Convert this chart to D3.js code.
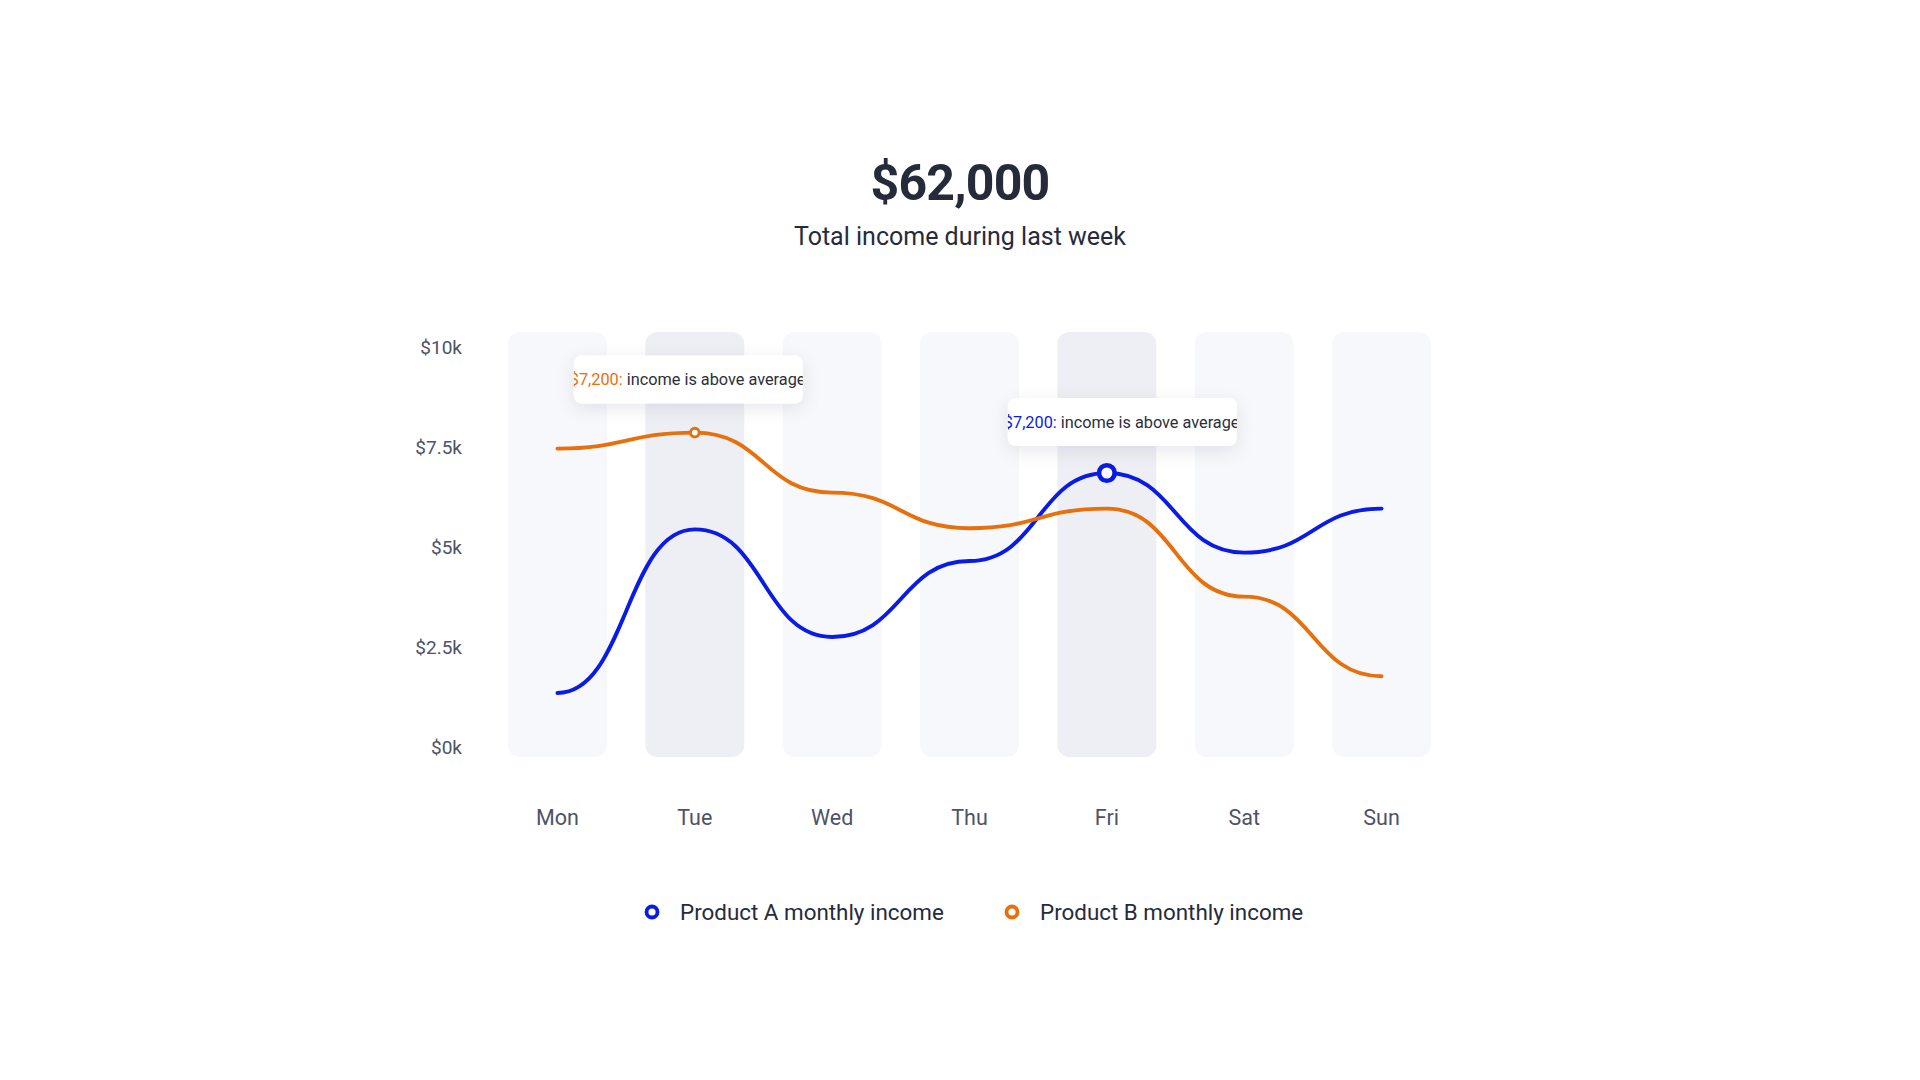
<!DOCTYPE html>
<html>
<head>
<meta charset="utf-8">
<script src="https://cdn.jsdelivr.net/npm/d3@7"></script>
<style>
  html, body { margin: 0; padding: 0; background: #ffffff; }
  svg { display: block; font-family: Roboto, "Noto Sans", sans-serif; }
</style>
</head>
<body>
<svg id="chart" width="1920" height="1080"></svg>
<script>
// ---- data ----
const days = ["Mon", "Tue", "Wed", "Thu", "Fri", "Sat", "Sun"];
const productA = [1350, 5440, 2750, 4650, 6850, 4860, 5960];
const productB = [7460, 7860, 6360, 5470, 5960, 3760, 1770];
const yTicks = [0, 2500, 5000, 7500, 10000];
const yTickLabels = ["$0k", "$2.5k", "$5k", "$7.5k", "$10k"];
const highlightedDays = ["Tue", "Fri"];
const seriesNames = ["Product A monthly income", "Product B monthly income"];
const titleText = "$62,000";
const subtitleText = "Total income during last week";
const tooltipDays = ["Tue", "Fri"];
const tooltipSeries = [1, 0];           // index into series list
const tooltipValues = ["$7,200:", "$7,200:"];
const tooltipMessage = " income is above average";

// ---- styles / layout ----
const colors = ["#0a1be6", "#e8700c"];
const series = [productA, productB];
const textDark = "#262b3c";
const axisColor = "#4d5368";

const svg = d3.select("#chart");
const defs = svg.append("defs");
const shadow = defs.append("filter").attr("id", "shadow")
  .attr("x", "-30%").attr("y", "-60%").attr("width", "160%").attr("height", "240%");
shadow.append("feDropShadow").attr("dx", 0).attr("dy", 5).attr("stdDeviation", 9)
  .attr("flood-color", "#1a2040").attr("flood-opacity", 0.09);

const x = d3.scaleBand().domain(days).range([508, 1431]).paddingInner(0.28).paddingOuter(0);
const y = d3.scaleLinear().domain([0, 10000]).range([747, 347]);
const cx = d => x(d) + x.bandwidth() / 2;

// Title
svg.append("text").attr("x", 960).attr("y", 200).attr("text-anchor", "middle")
  .attr("font-size", 50).attr("font-weight", 700).attr("letter-spacing", -0.8)
  .attr("fill", textDark).text(titleText);
svg.append("text").attr("x", 960).attr("y", 245).attr("text-anchor", "middle")
  .attr("font-size", 25).attr("fill", textDark).text(subtitleText);

// Bars (background columns)
svg.append("g").selectAll("rect").data(days).join("rect")
  .attr("x", d => x(d)).attr("width", x.bandwidth())
  .attr("y", y(10000) - 15).attr("height", y(0) - y(10000) + 25)
  .attr("rx", 12)
  .attr("fill", d => highlightedDays.includes(d) ? "#eeeff4" : "#f7f8fb");

// Y axis labels
const yAxis = d3.axisLeft(y).tickValues(yTicks)
  .tickFormat((d, i) => yTickLabels[i]).tickSize(0).tickPadding(0);
const yg = svg.append("g").attr("transform", "translate(462,0)").call(yAxis);
yg.select(".domain").remove();
yg.selectAll("text").attr("font-size", 19).attr("fill", axisColor)
  .attr("font-family", "Roboto, sans-serif").attr("dy", "0.35em");

// X axis labels
const xAxis = d3.axisBottom(x).tickSize(0).tickPadding(0);
const xg = svg.append("g").attr("transform", "translate(0,817)").call(xAxis);
xg.select(".domain").remove();
xg.selectAll("text").attr("font-size", 21.5).attr("fill", axisColor)
  .attr("font-family", "Roboto, sans-serif").attr("dy", "0.35em");

// Lines
const line = d3.line().x((d, i) => cx(days[i])).y(d => y(d)).curve(d3.curveBumpX);
svg.append("g").selectAll("path").data(series).join("path")
  .attr("d", d => line(d)).attr("fill", "none")
  .attr("stroke", (d, i) => colors[i]).attr("stroke-width", 3.9)
  .attr("stroke-linecap", "round");

// Tooltips
const tipLayout = [{ dx: -121, dy: -77, r: 4.3, sw: 2.9 }, { dx: -99, dy: -75, r: 7.8, sw: 4.6 }];
const tipW = 229, tipH = 48;
tooltipDays.forEach((day, k) => {
  const si = tooltipSeries[k];
  const di = days.indexOf(day);
  const px = cx(day), py = y(series[si][di]);
  const L = tipLayout[k];
  const bx = px + L.dx, by = py + L.dy;
  const clipId = "clip" + k;
  defs.append("clipPath").attr("id", clipId).append("rect")
    .attr("x", bx).attr("y", by).attr("width", tipW).attr("height", tipH).attr("rx", 8);
  const g = svg.append("g");
  g.append("rect").attr("x", bx).attr("y", by).attr("width", tipW).attr("height", tipH)
    .attr("rx", 8).attr("fill", "#ffffff").attr("filter", "url(#shadow)");
  const t = g.append("text").attr("clip-path", `url(#${clipId})`)
    .attr("x", bx - 4).attr("y", by + tipH / 2).attr("dy", "0.35em")
    .attr("font-size", 16.3).attr("fill", "#2b2f3b");
  t.append("tspan").attr("fill", colors[si]).text(tooltipValues[k]);
  t.append("tspan").text(tooltipMessage);
  // marker
  svg.append("circle").attr("cx", px).attr("cy", py).attr("r", L.r)
    .attr("fill", "#ffffff").attr("stroke", colors[si]).attr("stroke-width", L.sw);
});

// Legend
const legendX = [652, 1012];
const lg = svg.append("g").selectAll("g").data(seriesNames).join("g")
  .attr("transform", (d, i) => `translate(${legendX[i]},912)`);
lg.append("circle").attr("r", 5.5).attr("fill", "#fff")
  .attr("stroke", (d, i) => colors[i]).attr("stroke-width", 3.8);
lg.append("text").attr("x", 28).attr("dy", "0.35em").attr("font-size", 22.4)
  .attr("fill", textDark).text(d => d);
</script>
</body>
</html>
